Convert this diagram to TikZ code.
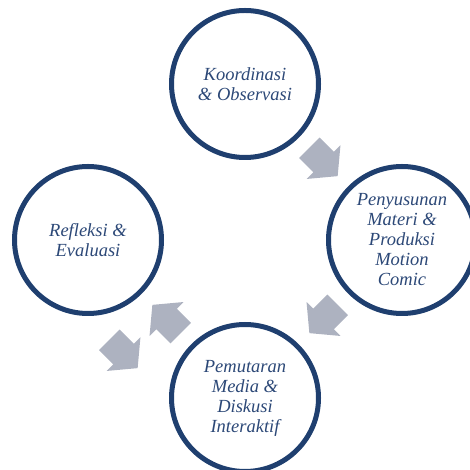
\documentclass[tikz,border=0pt]{standalone}
\usepackage{fontspec}
\setmainfont{Liberation Serif}
\usetikzlibrary{calc}
\definecolor{ringblue}{HTML}{1F3F6F}
\definecolor{textblue}{HTML}{2C4877}
\definecolor{arrowgray}{HTML}{ADB2C0}
\begin{document}
\begin{tikzpicture}[x=1pt,y=1pt,
  stage/.style={circle, draw=ringblue, line width=5pt, minimum size=147pt,
    inner sep=0pt, align=center, text=textblue,
    font=\fontsize{18.5}{20}\selectfont\itshape},
  blockarrow/.pic={\fill[arrowgray] (-20,-14.5) -- (0,-14.5) -- (0,-24) -- (20,0)
    -- (0,24) -- (0,14.5) -- (-20,14.5) -- cycle;}]
\useasboundingbox (0,0) rectangle (469,470);
\node[stage] (top) at (245,386) {Koordinasi\\\& Observasi};
\node[stage] (right) at (402,230) {Penyusunan\\Materi \&\\Produksi\\Motion\\Comic};
\node[stage] (bottom) at (245,72) {Pemutaran\\Media \&\\Diskusi\\Interaktif};
\node[stage] (left) at (88,230) {Refleksi \&\\Evaluasi};
\pic[rotate=-45] at ($(top)!0.5!(right)$) {blockarrow};
\pic[rotate=-135] at ($(right)!0.5!(bottom)$) {blockarrow};
\pic[rotate=135] at ($(bottom)!0.5!(left)$) {blockarrow};
\pic[rotate=-45] at ($(bottom)!0.5!(left)+(-43,-35)$) {blockarrow};
\end{tikzpicture}
\end{document}
